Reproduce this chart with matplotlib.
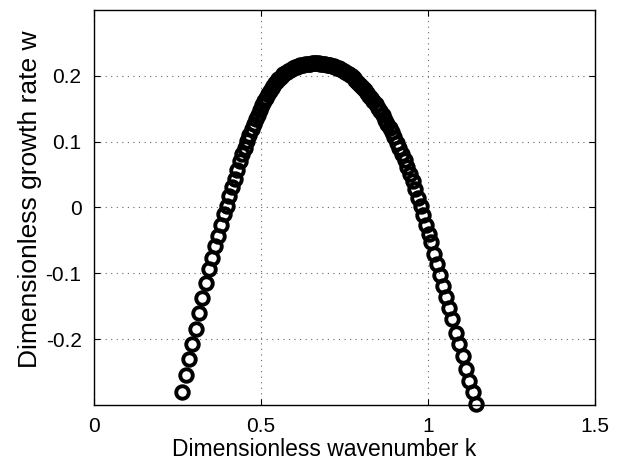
import matplotlib
matplotlib.use('Agg')
import matplotlib.pyplot as plt

plt.rcParams['font.family'] = ['Liberation Sans', 'DejaVu Sans']

# wavenumber samples (denser near the peak)
k = [0.263, 0.274, 0.284, 0.294, 0.304, 0.314, 0.324, 0.334, 0.344,
     0.353, 0.362, 0.371, 0.380, 0.389, 0.397, 0.405, 0.413, 0.421, 0.429,
     0.437, 0.444, 0.451, 0.458,
     0.465, 0.472, 0.479, 0.485, 0.491, 0.497, 0.503, 0.509, 0.515, 0.521,
     0.527, 0.532, 0.537, 0.542, 0.547, 0.552, 0.557,
     0.562, 0.567, 0.572, 0.577, 0.582, 0.587, 0.592, 0.597, 0.602, 0.607,
     0.612, 0.617, 0.622, 0.627, 0.632, 0.637, 0.642, 0.647, 0.652, 0.657,
     0.662,
     0.667, 0.672, 0.677, 0.682, 0.687, 0.692, 0.697, 0.702, 0.707, 0.712,
     0.717, 0.722, 0.727, 0.732, 0.737, 0.742, 0.747, 0.752, 0.757, 0.762,
     0.767, 0.772, 0.777, 0.782,
     0.788, 0.794, 0.800, 0.806, 0.812, 0.818, 0.824, 0.830, 0.836, 0.843,
     0.850, 0.857, 0.864, 0.871, 0.878, 0.885, 0.892, 0.899,
     0.907, 0.914, 0.922, 0.930, 0.938, 0.946, 0.954, 0.962, 0.970, 0.978,
     0.986, 0.994, 1.002, 1.010,
     1.019, 1.028, 1.037, 1.046, 1.055, 1.064, 1.073, 1.083, 1.093, 1.103,
     1.113, 1.123, 1.133, 1.143]

# growth rate at each sample
w = [-0.280, -0.254, -0.230, -0.207, -0.184, -0.161, -0.137, -0.115, -0.094,
     -0.076, -0.059, -0.043, -0.026, -0.010, 0.003, 0.017, 0.031, 0.044, 0.057,
     0.070, 0.081, 0.091, 0.101,
     0.110, 0.119, 0.127, 0.134, 0.141, 0.148, 0.155, 0.161, 0.167, 0.172,
     0.177, 0.181, 0.185, 0.189, 0.192, 0.195, 0.197,
     0.200, 0.202, 0.204, 0.206, 0.208, 0.209, 0.211, 0.212, 0.213, 0.214,
     0.215, 0.216, 0.2165, 0.217, 0.2175, 0.218, 0.2184, 0.2187, 0.2189, 0.219,
     0.219,
     0.219, 0.2188, 0.2186, 0.2184, 0.218, 0.2176, 0.217, 0.2164, 0.2158, 0.215,
     0.2142, 0.2132, 0.2122, 0.2112, 0.210, 0.2088, 0.2074, 0.206, 0.2046, 0.203,
     0.201, 0.199, 0.197, 0.194,
     0.191, 0.188, 0.185, 0.181, 0.178, 0.174, 0.170, 0.166, 0.162, 0.157,
     0.151, 0.146, 0.140, 0.133, 0.127, 0.120, 0.114, 0.107,
     0.098, 0.091, 0.081, 0.072, 0.062, 0.051, 0.040, 0.028, 0.015, 0.002,
     -0.012, -0.026, -0.040, -0.053,
     -0.070, -0.086, -0.102, -0.119, -0.136, -0.153, -0.170, -0.190, -0.208, -0.226,
     -0.245, -0.263, -0.281, -0.298]

xticks = [0, 0.5, 1, 1.5]
xtick_labels = ['0', '0.5', '1', '1.5']
yticks = [-0.2, -0.1, 0, 0.1, 0.2]
ytick_labels = ['-0.2', '-0.1', '0', '0.1', '0.2']

fig = plt.figure(figsize=(6.28, 4.62), dpi=100)
ax = fig.add_axes([0.1497, 0.1234, 0.798, 0.855])

ax.plot(k, w, 'o', markerfacecolor='none', markeredgecolor='black',
        markersize=9, markeredgewidth=2.8, clip_on=False)

ax.set_xlim(0, 1.5)
ax.set_ylim(-0.3, 0.3)
ax.set_xticks(xticks)
ax.set_xticklabels(xtick_labels)
ax.set_yticks(yticks)
ax.set_yticklabels(ytick_labels)

ax.grid(True, linestyle=(0, (1, 4)), color='0.4', linewidth=0.8)
ax.tick_params(direction='in', length=4, labelsize=15, top=True, right=True)
ax.tick_params(axis='x', pad=9)
ax.tick_params(axis='y', pad=9)
for s in ax.spines.values():
    s.set_linewidth(1.0)

ax.set_xlabel('Dimensionless wavenumber k', fontsize=16.5, va='center')
ax.xaxis.set_label_coords(0.459, -0.113)
ax.set_ylabel('Dimensionless growth rate w', fontsize=19, va='center')
ax.yaxis.set_label_coords(-0.128, 0.522)

fig.savefig('out.png', dpi=100)
